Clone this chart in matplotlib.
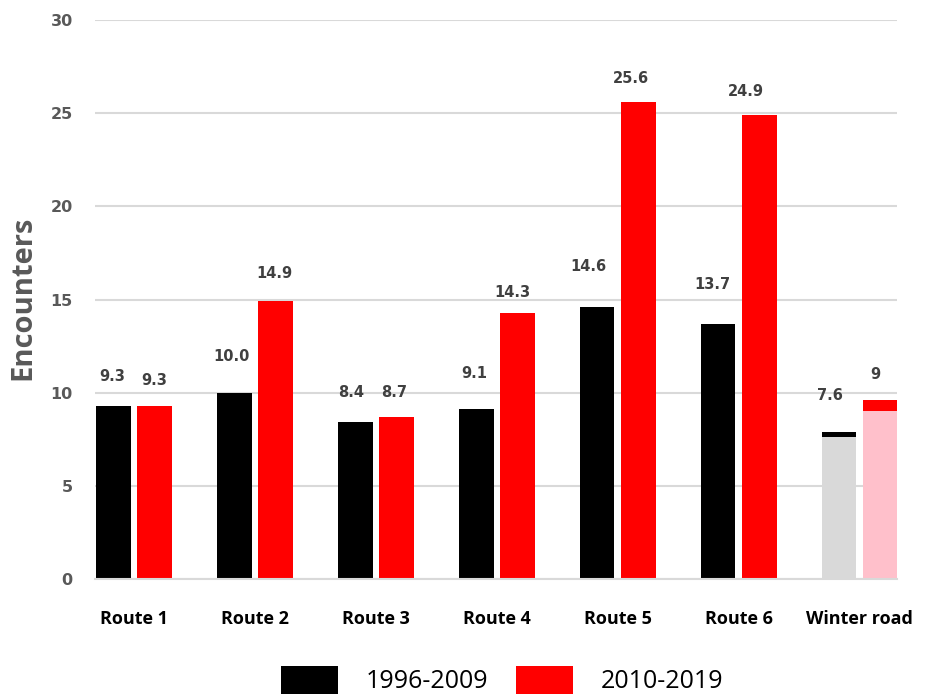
import numpy as np
import matplotlib
matplotlib.use("Agg")
import matplotlib.pyplot as plt
from matplotlib.patches import Patch

# encounters per route, two periods
routes = ["Route 1", "Route 2", "Route 3", "Route 4", "Route 5", "Route 6", "Winter road"]
early = [9.3, 10.0, 8.4, 9.1, 14.6, 13.7, 7.6]
late = [9.3, 14.9, 8.7, 14.3, 25.6, 24.9, 9.0]
early_labels = ["9.3", "10.0", "8.4", "9.1", "14.6", "13.7", "7.6"]
late_labels = ["9.3", "14.9", "8.7", "14.3", "25.6", "24.9", "9"]
# small darker caps on top of the winter road bars
winter_cap = [0.3, 0.6]
periods = ["1996-2009", "2010-2019"]

# hand-placed label offsets (pixels) relative to the top centre of each bar
early_off = [(-1, 29), (-3, 36), (-4, 30), (-2, 36), (-9, 40), (-6, 39), (-9, 42)]
late_off = [(0, 25), (-1, 28), (-2, 24), (-5, 20), (-7, 23), (-13, 24), (-5, 37)]

fig = plt.figure(figsize=(9.3, 6.96), dpi=100)
ax = fig.add_axes([95 / 930, 1 - 579 / 696, (897 - 95) / 930, (579 - 20) / 696])

x = np.arange(len(routes))
w = 0.285
d = 0.17
black_cols = ["black"] * 6 + ["#d9d9d9"]
red_cols = ["red"] * 6 + ["#ffc0cb"]

ax.bar(x - d, early, w, color=black_cols, zorder=2)
ax.bar(x + d, late, w, color=red_cols, zorder=2)
ax.bar(x[-1] - d, winter_cap[0], w, bottom=early[-1], color="black", zorder=2)
ax.bar(x[-1] + d, winter_cap[1], w, bottom=late[-1], color="red", zorder=2)

lab_font = dict(fontsize=10.5, fontweight="bold", color="#404040", family="DejaVu Sans",
                ha="center", va="center")
for i in range(len(routes)):
    ax.annotate(early_labels[i], (x[i] - d, early[i]), xytext=early_off[i],
                textcoords="offset pixels", **lab_font)
    ax.annotate(late_labels[i], (x[i] + d, late[i]), xytext=late_off[i],
                textcoords="offset pixels", **lab_font)

ax.set_xlim(-0.322, 6.308)
ax.set_ylim(0, 30)
ax.set_yticks([0, 5, 10, 15, 20, 25, 30])
ax.yaxis.grid(True, color="#d9d9d9", lw=1.5, zorder=0)
ax.set_axisbelow(True)
for s in ["top", "right", "left"]:
    ax.spines[s].set_visible(False)
ax.spines["bottom"].set_color("#d9d9d9")
ax.spines["bottom"].set_linewidth(1.5)
ax.tick_params(axis="both", length=0)
ax.tick_params(axis="y", pad=16)
ax.tick_params(axis="x", pad=22)
for t in ax.get_yticklabels():
    t.set_fontsize(11.5)
    t.set_fontweight("bold")
    t.set_color("#595959")
ax.set_xticks(x)
ax.set_xticklabels(routes, fontsize=13, fontweight="bold", family="Open Sans", color="black")

ax.set_ylabel("Encounters", fontsize=21, fontweight="bold", family="Open Sans",
              color="#595959")
ax.yaxis.set_label_coords(-0.072, 0.503)

handles = [Patch(facecolor="black"), Patch(facecolor="red")]
fig.legend(handles, periods, loc="center", bbox_to_anchor=(502 / 930, 1 - 680 / 696),
           ncol=2, frameon=False, handlelength=2.3, handleheight=1.4,
           columnspacing=1.1, handletextpad=1.1,
           prop={"family": "Open Sans", "size": 18})

fig.savefig("out.png", dpi=100)
